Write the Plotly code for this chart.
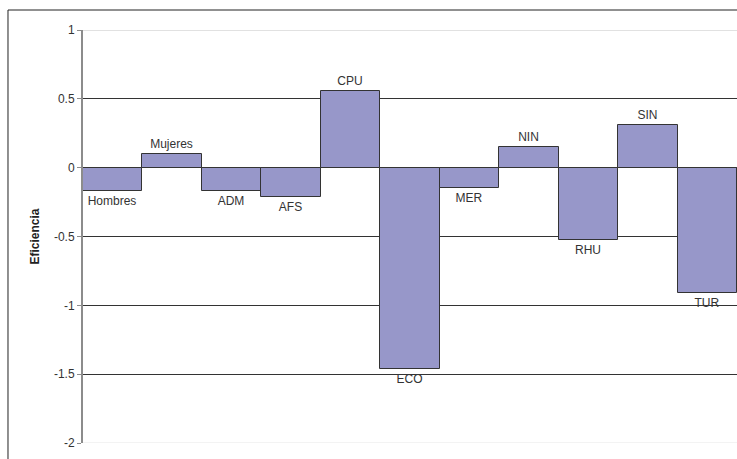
import plotly.graph_objects as go

categories = ["Hombres", "Mujeres", "ADM", "AFS", "CPU", "ECO", "MER", "NIN", "RHU", "SIN", "TUR"]
values = [-0.17, 0.10, -0.17, -0.215, 0.56, -1.46, -0.15, 0.153, -0.527, 0.31, -0.908]
y_ticks = [-2, -1.5, -1, -0.5, 0, 0.5, 1]
y_labels = ["-2", "-1.5", "-1", "-0.5", "0", "0.5", "1"]

fig = go.Figure(go.Bar(
    x=list(range(len(categories))),
    y=values,
    text=categories,
    textposition="outside",
    textfont=dict(family="Liberation Sans, Arial", size=12, color="#333333"),
    marker=dict(color="#9797C9", line=dict(color="#333333", width=1)),
    cliponaxis=False,
    width=1,
))

fig.update_layout(
    width=737, height=459,
    margin=dict(l=83, r=0, t=30, b=16),
    paper_bgcolor="white", plot_bgcolor="white",
    bargap=0,
    showlegend=False,
    font=dict(family="Liberation Sans, Arial", color="#333333"),
    xaxis=dict(range=[-0.5, len(categories) - 0.5], showticklabels=False,
               showgrid=False, zeroline=False, showline=False, ticks=""),
    yaxis=dict(range=[-2, 1], tickvals=y_ticks, ticktext=y_labels,
               showgrid=True, gridcolor="#333333", gridwidth=1,
               zeroline=True, zerolinecolor="#333333", zerolinewidth=1,
               showline=True, linecolor="#8c8c8c", linewidth=2,
               ticks="outside", ticklen=4, tickcolor="#8c8c8c",
               tickfont=dict(size=12, color="#333333"),
               title=dict(text="<b>Eficiencia</b>", font=dict(size=12, color="#222222"), standoff=12)),
    shapes=[
        dict(type="line", xref="paper", yref="y", x0=0, x1=1, y0=1, y1=1,
             line=dict(color="#c4c4c4", width=1), layer="above"),
        dict(type="line", xref="paper", yref="y", x0=0, x1=1, y0=-2, y1=-2,
             line=dict(color="#e6e6e6", width=1), layer="above"),
        dict(type="rect", xref="paper", yref="paper", x0=-0.1147, x1=1.05, y0=-0.06, y1=1.0484,
             line=dict(color="#222222", width=1), fillcolor="rgba(0,0,0,0)", layer="above"),
    ],
)

fig.write_html("out.html")
